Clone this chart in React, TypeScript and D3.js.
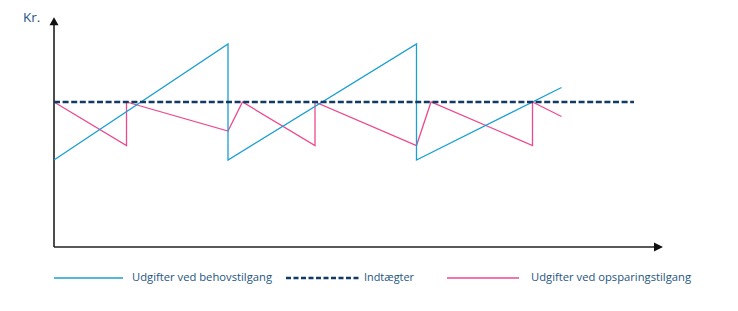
import React from "react";
import * as d3 from "d3";

// Time units along the x axis, amounts (Kr.) on the y axis
const behovX = [0, 12, 12, 25, 25, 35];
const behovY = [60, 140, 60, 140, 60, 110];

const opsparingX = [0, 5, 5, 12, 13, 18, 18, 25, 26, 33, 33, 35];
const opsparingY = [100, 70, 100, 80, 100, 70, 100, 70, 100, 70, 100, 90];

const indtaegterX = [0, 40];
const indtaegterY = [100, 100];

const legendLabels = ["Udgifter ved behovstilgang", "Indtægter", "Udgifter ved opsparingstilgang"];
const yAxisLabel = "Kr.";

const W = 738;
const H = 311;

const BLUE = "#1a9fd3";
const PINK = "#ec4a8f";
const NAVY = "#123a66";
const TEXT = "#1d5580";

export default function App() {
  const x = d3.scaleLinear().domain([0, 42]).range([54, 663]);
  const y = d3.scaleLinear().domain([0, 160]).range([247, 15]);

  const line = d3
    .line<[number, number]>()
    .x((d) => x(d[0]))
    .y((d) => y(d[1]));

  const zip = (xs: number[], ys: number[]) => xs.map((v, i) => [v, ys[i]] as [number, number]);

  const legend = [
    { label: legendLabels[0], x1: 54, x2: 123, tx: 132, tw: 140, color: BLUE, dash: undefined, sw: 1.6 },
    { label: legendLabels[1], x1: 286, x2: 359, tx: 364, tw: 50, color: NAVY, dash: "5,2.5", sw: 2.4 },
    { label: legendLabels[2], x1: 447, x2: 519, tx: 531, tw: 160, color: PINK, dash: undefined, sw: 1.6 },
  ];

  const font = "'Open Sans', 'Noto Sans', sans-serif";
  const yTop = y(158.5);
  const xEnd = x(42);

  return (
    <svg
      width={W}
      height={H}
      style={{ position: "absolute", left: 0, top: 0, background: "#fff" }}
      fontFamily={font}
    >
      {/* axes */}
      <line x1={x(0)} y1={y(0)} x2={x(0)} y2={yTop + 6} stroke="#111" strokeWidth={1.5} />
      <path d={`M${x(0)},${yTop} L${x(0) - 4.5},${yTop + 8} L${x(0) + 4.5},${yTop + 8} Z`} fill="#111" />
      <line x1={x(0)} y1={y(0)} x2={xEnd - 6} y2={y(0)} stroke="#222" strokeWidth={1.5} />
      <path d={`M${xEnd},${y(0)} L${xEnd - 9},${y(0) - 4.5} L${xEnd - 9},${y(0) + 4.5} Z`} fill="#111" />

      <text x={23} y={22} fontSize={13.5} fill={TEXT}>
        {yAxisLabel}
      </text>

      {/* series */}
      <path d={line(zip(opsparingX, opsparingY)) || ""} fill="none" stroke={PINK} strokeWidth={1.3} />
      <path d={line(zip(behovX, behovY)) || ""} fill="none" stroke={BLUE} strokeWidth={1.3} />
      <path
        d={line(zip(indtaegterX, indtaegterY)) || ""}
        fill="none"
        stroke={NAVY}
        strokeWidth={2.4}
        strokeDasharray="6,2.6"
      />

      {/* legend */}
      {legend.map((l) => (
        <g key={l.label}>
          <line x1={l.x1} x2={l.x2} y1={278} y2={278} stroke={l.color} strokeWidth={l.sw} strokeDasharray={l.dash} />
          <text x={l.tx} y={281} fontSize={11} fill={TEXT} textLength={l.tw} lengthAdjust="spacingAndGlyphs">
            {l.label}
          </text>
        </g>
      ))}
    </svg>
  );
}
